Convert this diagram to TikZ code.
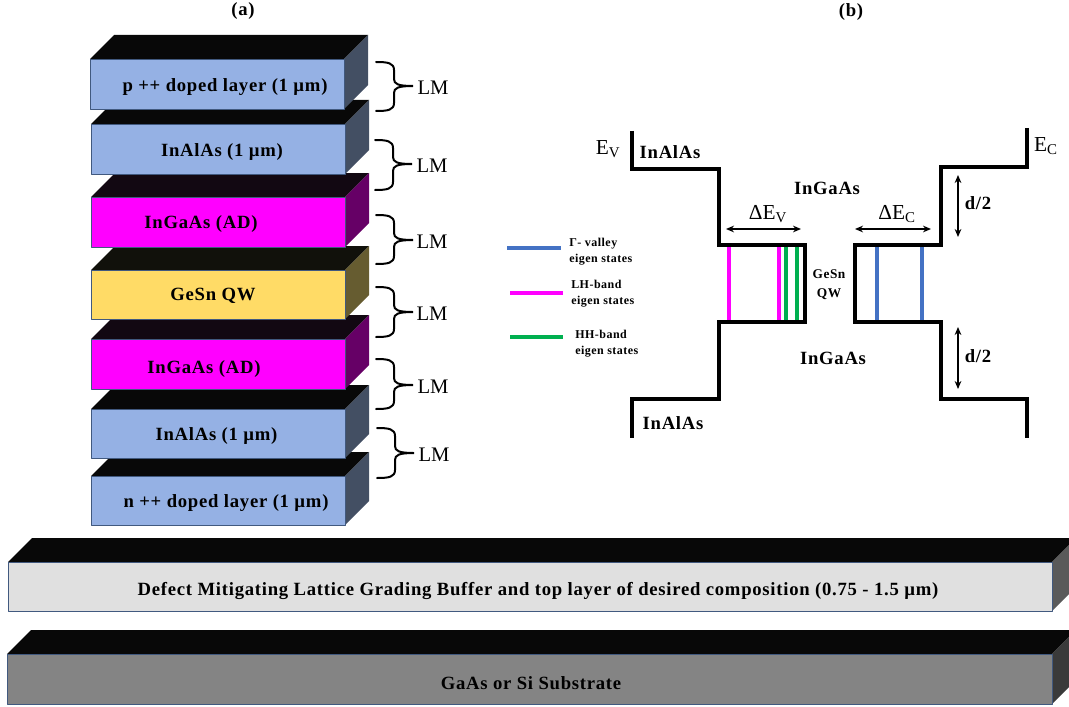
\documentclass[tikz,border=0pt]{standalone}
\usepackage{fontspec}
\setmainfont{Liberation Serif}
\newfontfamily\spaced[LetterSpace=4]{Liberation Serif}
\usetikzlibrary{arrows.meta}
\definecolor{slabblue}{HTML}{95B1E4}
\definecolor{sideblue}{HTML}{434F63}
\definecolor{slabmag}{HTML}{FF00FF}
\definecolor{sidemag}{HTML}{660066}
\definecolor{topmag}{HTML}{0B000B}
\definecolor{slabyel}{HTML}{FFDB66}
\definecolor{sideyel}{HTML}{665C30}
\definecolor{topyel}{HTML}{0A0A04}
\definecolor{slablight}{HTML}{E0E0E0}
\definecolor{sidelight}{HTML}{5A5A5A}
\definecolor{slabgrey}{HTML}{848484}
\definecolor{sidegrey}{HTML}{3A3A3A}
\definecolor{slabedge}{HTML}{41597F}
\definecolor{levelblue}{HTML}{4472C4}
\definecolor{levelgreen}{HTML}{00B050}
\tikzset{
  sliceface/.style={draw=slabedge,line width=0.6pt,line join=round},
  slicelabel/.style={font=\spaced\fontsize{14}{16}\selectfont\bfseries,inner sep=0pt},
  lmlabel/.style={font=\fontsize{15.5}{17}\selectfont,inner sep=0pt},
  lmbrace/.style={line width=1.5pt,line cap=round},
  band/.style={line width=3.2pt,line join=miter},
  bandlabel/.style={font=\spaced\fontsize{14}{16}\selectfont\bfseries,inner sep=0pt},
  energy/.style={font=\fontsize{16}{18}\selectfont,inner sep=0pt},
  statelabel/.style={font=\spaced\fontsize{9}{12}\selectfont\bfseries,inner sep=0pt,align=left,anchor=west},
  statelevel/.style={line width=2.3pt},
  dimarrow/.style={{Stealth[length=6pt,width=5pt]}-{Stealth[length=6pt,width=5pt]},line width=1.1pt},
}
\begin{document}
\begin{tikzpicture}[x=0.75pt,y=-0.75pt]
  \useasboundingbox (0,0) rectangle (1069,706);
  % substrate and buffer
  \foreach \xa/\xb/\ya/\yb/\cf/\cs in {7/1052/654/704/slabgrey/sidegrey,8/1052/562/611/slablight/sidelight}{
    \fill[black!97] (\xa,\ya) -- ++(24,-24) -- (\xb+24,\ya-24) -- (\xb,\ya) -- cycle;
    \fill[\cs] (\xb,\ya) -- ++(24,-24) -- (\xb+24,\yb-24) -- (\xb,\yb) -- cycle;
    \draw[sliceface,fill=\cf] (\xa,\ya) rectangle (\xb,\yb);
  }
  % layer stack, drawn from the bottom up
  \foreach \xa/\ya/\yb/\cf/\cs/\ct in {
    91/476/525/slabblue/sideblue/black,
    91/409/458/slabblue/sideblue/black,
    91/339/389/slabmag/sidemag/topmag,
    91/270/319/slabyel/sideyel/topyel,
    91/197/247/slabmag/sidemag/topmag,
    91/124/174/slabblue/sideblue/black,
    90/59/109/slabblue/sideblue/black}{
    \fill[\ct!97!white] (\xa,\ya) -- ++(24,-24) -- (\xa+278,\ya-24) -- (\xa+254,\ya) -- cycle;
    \fill[\cs] (\xa+254,\ya) -- ++(24,-24) -- (\xa+278,\yb-24) -- (\xa+254,\yb) -- cycle;
    \draw[sliceface,fill=\cf] (\xa,\ya) rectangle (\xa+254,\yb);
  }
  \node[slicelabel] (pdoped) at (225,87) {p ++ doped layer (1 µm)};
  \node[slicelabel] (barriertop) at (222,152) {InAlAs (1 µm)};
  \node[slicelabel] (spacertop) at (201,224) {InGaAs (AD)};
  \node[slicelabel] (well) at (213,296) {GeSn QW};
  \node[slicelabel] (spacerbot) at (204,369) {InGaAs (AD)};
  \node[slicelabel] (barrierbot) at (216.5,436) {InAlAs (1 µm)};
  \node[slicelabel] (ndoped) at (226,503) {n ++ doped layer (1 µm)};
  \node[slicelabel] (buffer) at (538,591) {Defect Mitigating Lattice Grading Buffer and top layer of desired composition (0.75 - 1.5 µm)};
  \node[slicelabel] (substrate) at (531,683) {GaAs or Si Substrate};
  \node[slicelabel] (parta) at (243,11) {(a)};
  \node[slicelabel] (partb) at (851,12) {(b)};
  % LM braces
  \foreach \x/\ya/\ym/\yb/\lx/\n in {376/62/86/111/433/1,375/140/164/190/432/2,376/215/240/264/432/3,376/287/312/337/432/4,376/359/385/409/433/5,377/428/453/478/434/6}{
    \draw[lmbrace] (\x,\ya) .. controls (\x+12,\ya) and (\x+18,\ya+1) .. (\x+18,\ya+8)
      -- (\x+18,\ym-7) .. controls (\x+18,\ym-2) and (\x+22,\ym) .. (\x+37,\ym)
      .. controls (\x+22,\ym) and (\x+18,\ym+2) .. (\x+18,\ym+7)
      -- (\x+18,\yb-8) .. controls (\x+18,\yb-1) and (\x+12,\yb) .. (\x,\yb);
    \node[lmlabel] (lm\n) at (\lx,\ym+2) {LM};
  }
  % eigen states
  \foreach \x in {729,779}
    \draw[statelevel,slabmag] (\x,245) -- (\x,322);
  \foreach \x in {786,797}
    \draw[statelevel,levelgreen] (\x,245) -- (\x,322);
  \foreach \x in {877,922}
    \draw[statelevel,levelblue] (\x,245) -- (\x,322);
  % band edges
  \draw[band] (632,131) -- (632,169) -- (719,169) -- (719,245) -- (805,245) -- (805,322) -- (719,322) -- (719,399) -- (632,399) -- (632,438);
  \draw[band] (1027,128) -- (1027,167) -- (941,167) -- (941,245) -- (855,245) -- (855,322) -- (941,322) -- (941,399) -- (1027,399) -- (1027,438);
  \node[energy] (ev) at (608,149) {E\textsubscript{V}};
  \node[energy] (ec) at (1046,146) {E\textsubscript{C}};
  \node[bandlabel] (alastl) at (670,152) {InAlAs};
  \node[bandlabel] (alasbl) at (673,423) {InAlAs};
  \node[bandlabel] (gaastop) at (827,188) {InGaAs};
  \node[bandlabel] (gaasbot) at (833,358) {InGaAs};
  \node[font=\spaced\fontsize{10}{14.2}\selectfont\bfseries,inner sep=0pt,align=center] (qw) at (829,284.5) {GeSn\\QW};
  % offsets
  \coordinate (evl) at (726,229);
  \coordinate (evr) at (801,229);
  \coordinate (ecl) at (855,229);
  \coordinate (ecr) at (931,229);
  \coordinate (dta) at (958,175);
  \coordinate (dtb) at (958,237);
  \coordinate (dba) at (958,327);
  \coordinate (dbb) at (958,389);
  \draw[dimarrow] (evl) -- (evr);
  \draw[dimarrow] (ecl) -- (ecr);
  \draw[dimarrow] (dta) -- (dtb);
  \draw[dimarrow] (dba) -- (dbb);
  \node[energy] (dev) at (768,214) {ΔE\textsubscript{V}};
  \node[energy] (dec) at (897,214) {ΔE\textsubscript{C}};
  \node[bandlabel] (halft) at (978,203) {d/2};
  \node[bandlabel] (halfb) at (978,356) {d/2};
  % legend
  \coordinate (kga) at (507,248);
  \coordinate (kgb) at (561,248);
  \coordinate (kla) at (510,293);
  \coordinate (klb) at (563,293);
  \coordinate (kha) at (510,337);
  \coordinate (khb) at (563,337);
  \draw[statelevel,levelblue] (kga) -- (kgb);
  \draw[statelevel,slabmag] (kla) -- (klb);
  \draw[statelevel,levelgreen] (kha) -- (khb);
  \node[statelabel] (keygamma) at (569,252) {Γ- valley\\eigen states};
  \node[statelabel] (keylh) at (571,294) {LH-band\\eigen states};
  \node[statelabel] (keyhh) at (575,344) {HH-band\\eigen states};
\end{tikzpicture}
\end{document}
